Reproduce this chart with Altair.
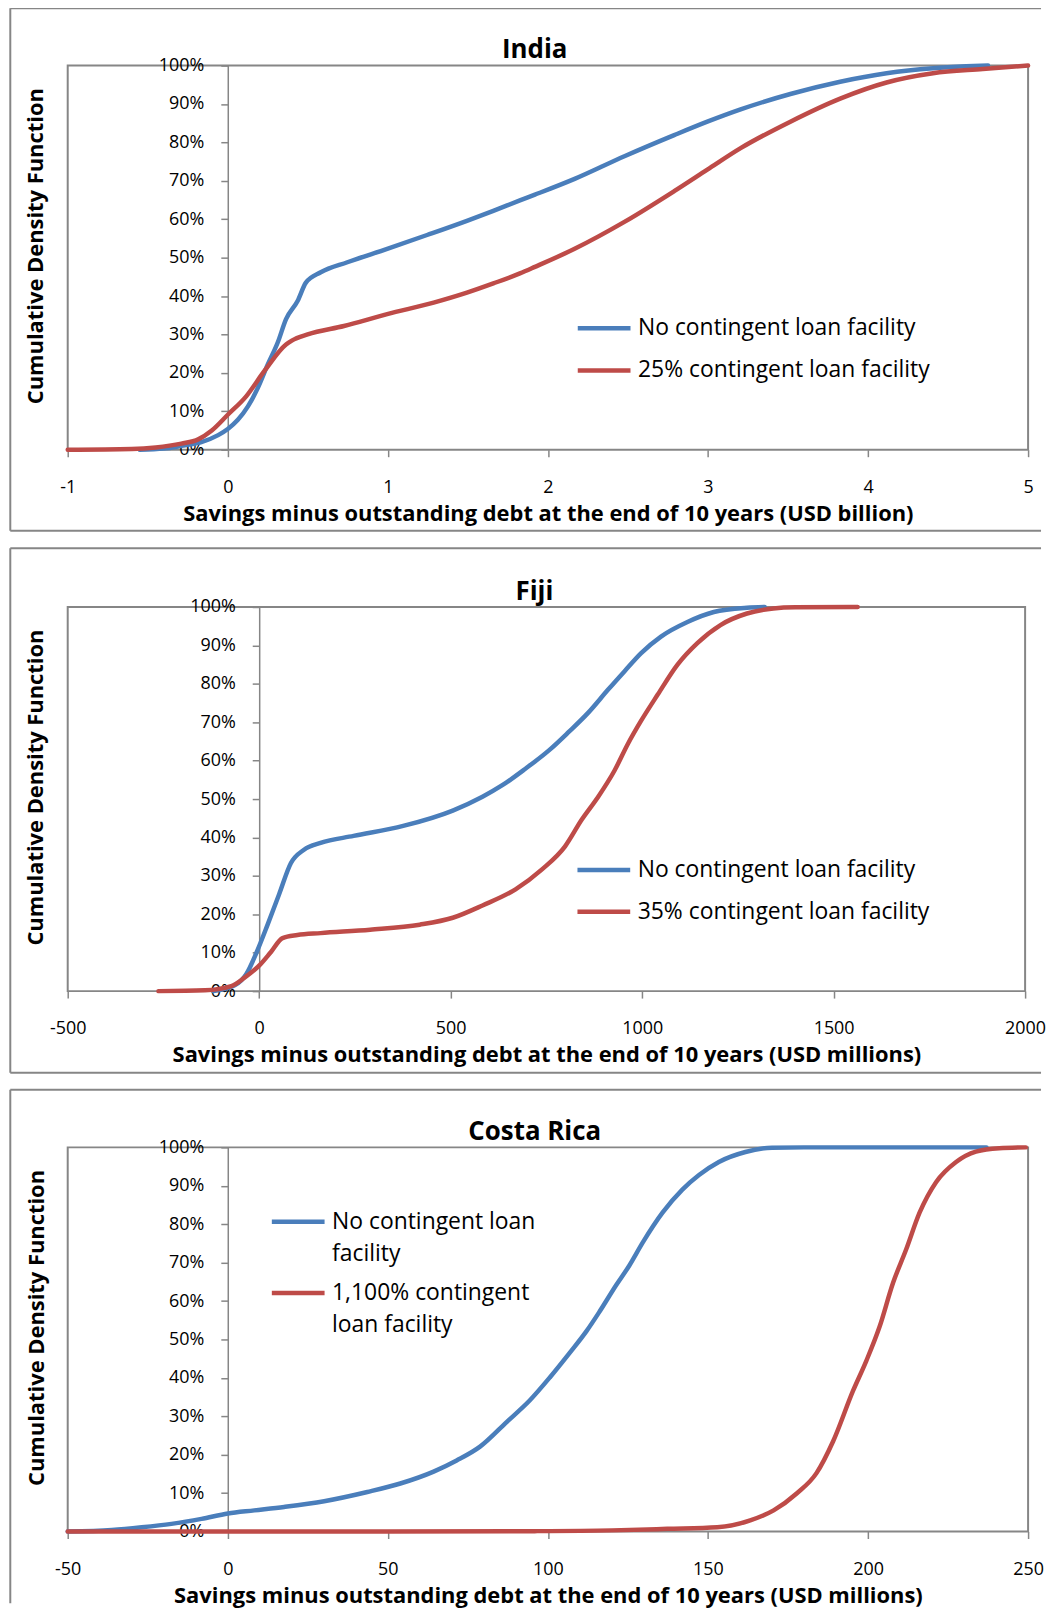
import altair as alt
import pandas as pd

FONT = "Open Sans"
GRAY = "#868686"
BLUE = "#4A7EBB"
RED = "#BE4B48"

# ---------------- India (USD billion) ----------------
india_no_x = [-0.55, -0.4, -0.29, -0.165, -0.06, 0.0, 0.063, 0.126, 0.188, 0.25, 0.312, 0.364,
              0.437, 0.488, 0.581, 0.747, 0.996, 1.245, 1.494, 1.659, 1.825, 1.919, 2.167,
              2.478, 2.789, 2.996, 3.204, 3.515, 3.826, 4.116, 4.406, 4.613, 4.75]
india_no_y = [0.0, 0.3, 1.0, 2.0, 3.8, 5.4, 7.8, 11.3, 16.1, 22.2, 27.9, 34.0,
              38.8, 43.5, 46.2, 48.8, 52.3, 55.9, 59.6, 62.2, 64.9, 66.4, 70.5,
              76.4, 81.9, 85.4, 88.6, 92.6, 95.8, 98.0, 99.3, 99.8, 100.0]
india_cl_x = [-1.0, -0.6, -0.45, -0.29, -0.185, -0.1, 0.0, 0.115, 0.229, 0.364, 0.4, 0.499,
              0.726, 0.996, 1.286, 1.494, 1.659, 1.825, 1.919, 2.167, 2.478, 2.789, 2.996,
              3.204, 3.515, 3.826, 4.116, 4.406, 4.717, 5.0]
india_cl_y = [0.0, 0.2, 0.6, 1.6, 2.7, 5.0, 9.1, 13.9, 20.5, 27.4, 28.4, 30.0,
              32.2, 35.3, 38.3, 40.9, 43.3, 45.9, 47.6, 52.3, 59.3, 67.3, 72.9,
              78.5, 85.4, 91.4, 95.6, 98.0, 99.1, 100.0]
india_ticks = [-1, 0, 1, 2, 3, 4, 5]

# ---------------- Fiji (USD millions) ----------------
fiji_no_x = [-120, -64.2, -33.9, -8, 22, 52.3, 82.6, 117, 160.3, 246.5, 376, 505.5, 583.1,
             634.9, 695.2, 755.8, 807.6, 859.4, 911.2, 954.2, 997.4, 1049.2, 1118.3,
             1187.2, 1273.7, 1320]
fiji_no_y = [0.0, 1.5, 4.4, 9.8, 17.3, 25.3, 33.3, 36.8, 38.6, 40.4, 43.0, 47.0, 50.6,
             53.6, 57.9, 62.6, 67.4, 72.5, 78.5, 83.3, 88.0, 92.3, 96.1,
             98.7, 99.8, 100.0]
fiji_cl_x = [-263, -141.9, -72.8, -38.3, 0.5, 30.8, 60.9, 99.7, 160.3, 289.7, 419.2, 505.5,
             583.1, 669.4, 738.5, 798.8, 842.0, 885.3, 928.3, 963.0, 997.4, 1040.7, 1092.4,
             1144.2, 1204.6, 1273.7, 1342.6, 1400, 1562.7]
fiji_cl_y = [0.0, 0.2, 1.3, 3.5, 6.7, 10.2, 13.8, 14.6, 15.1, 16.0, 17.3, 19.1,
             22.3, 26.5, 31.7, 37.7, 44.6, 50.6, 57.5, 64.4, 70.4, 77.2, 85.0,
             90.6, 95.3, 98.3, 99.6, 99.9, 100.0]
fiji_ticks = [-500, 0, 500, 1000, 1500, 2000]

# ---------------- Costa Rica (USD millions) ----------------
cr_no_x = [-50, -36.2, -26.9, -17.6, -8.2, 0.05, 8.3, 17.6, 30.1, 43.6, 53.9, 64.3, 71.5,
           78.8, 87.1, 94.3, 100.6, 106.8, 112.0, 116.1, 121.3, 125.4, 129.6, 135.8,
           142.0, 147.2, 153.4, 161.7, 170.0, 180, 237]
cr_no_y = [0.0, 0.4, 1.1, 2.0, 3.3, 4.7, 5.5, 6.4, 7.9, 10.3, 12.5, 15.6, 18.5,
           22.1, 28.5, 34.1, 40.1, 46.5, 52.1, 57.2, 64.1, 69.2, 75.2, 83.0,
           89.0, 92.8, 96.2, 98.8, 99.9, 100.0, 100.0]
cr_cl_x = [-50, 50, 95.9, 120, 137.3, 152.9, 163.2, 170.5, 177.7, 183.9, 189.1, 195.3,
           199.5, 203.6, 207.8, 211.9, 216.1, 221.3, 227.5, 233.7, 241, 249.3]
cr_cl_y = [0.0, 0.0, 0.1, 0.3, 0.7, 1.1, 2.9, 5.5, 9.9, 15.2, 23.5, 36.6,
           44.5, 53.3, 64.7, 73.4, 83.0, 91.0, 96.2, 98.9, 99.8, 100.0]
cr_ticks = [-50, 0, 50, 100, 150, 200, 250]

Y_TICKS = [i / 10 for i in range(11)]
LBL_NO = "No contingent loan facility"
Y_TITLE = "Cumulative Density Function"


def panel(title, xs_no, ys_no, xs_cl, ys_cl, lbl_cl, ticks, xtitle, W, H,
          leg_x, leg_y, row_pad, bl, bt, bb, br, title_x, title_y,
          ytitle_base, label_expr=None):
    xmin, xmax = ticks[0], ticks[-1]
    df = pd.DataFrame({
        "x": xs_no + xs_cl,
        "y": [v / 100 for v in ys_no + ys_cl],
        "series": [LBL_NO] * len(xs_no) + [lbl_cl] * len(xs_cl),
        "ord": list(range(len(xs_no))) + list(range(len(xs_cl))),
    })
    x0 = (0 - xmin) / (xmax - xmin) * W
    leg_kw = dict(
        orient="none", legendX=leg_x, legendY=leg_y, title=None,
        symbolType="stroke", symbolStrokeWidth=4.5, symbolSize=53 * 53,
        labelFont=FONT, labelFontSize=23, labelColor="black", labelOffset=5,
        labelLimit=500, clipHeight=24, rowPadding=row_pad, padding=0,
    )
    if label_expr:
        leg_kw["labelExpr"] = label_expr
    lines = alt.Chart(df).mark_line(
        strokeWidth=4.5, interpolate="monotone", strokeCap="round", strokeJoin="round"
    ).encode(
        x=alt.X("x:Q", scale=alt.Scale(domain=[xmin, xmax], nice=False, zero=False),
                axis=alt.Axis(values=ticks, title=xtitle, labelExpr="'' + datum.value",
                              domain=False, labelPadding=36, labelBaseline="alphabetic",
                              titleY=71, titleBaseline="alphabetic")),
        y=alt.Y("y:Q", scale=alt.Scale(domain=[0, 1], nice=False),
                axis=alt.Axis(values=Y_TICKS, format=".0%", offset=-x0,
                              title=Y_TITLE,
                              labelPadding=17, titleAngle=270, titleAlign="center",
                              titleBaseline="alphabetic", titleX=ytitle_base - x0,
                              titleY=H / 2 - 12)),
        color=alt.Color("series:N",
                        scale=alt.Scale(domain=[LBL_NO, lbl_cl], range=[BLUE, RED]),
                        legend=alt.Legend(**leg_kw)),
        order="ord:Q",
    )
    one = pd.DataFrame({"k": [0]})
    left = alt.Chart(one).mark_rule(color=GRAY, strokeWidth=2).encode(
        x=alt.value(bl), y=alt.value(bt), y2=alt.value(bb if bb is not None else H + 72))
    top = alt.Chart(one).mark_rule(color=GRAY, strokeWidth=2).encode(
        x=alt.value(bl), x2=alt.value(br), y=alt.value(bt))
    layers = [left, top]
    if bb is not None:
        bottom = alt.Chart(one).mark_rule(color=GRAY, strokeWidth=2).encode(
            x=alt.value(bl), x2=alt.value(br), y=alt.value(bb))
        layers.append(bottom)
    ttl = alt.Chart(one).mark_text(
        text=title, font=FONT, fontSize=26, fontWeight="bold", color="black",
        align="center", baseline="alphabetic"
    ).encode(x=alt.value(title_x), y=alt.value(title_y))
    layers += [ttl, lines]
    return alt.layer(*layers).properties(width=W, height=H)


H = 386
p_india = panel("India", india_no_x, india_no_y, india_cl_x, india_cl_y,
                "25% contingent loan facility", india_ticks,
                "Savings minus outstanding debt at the end of 10 years (USD billion)",
                965, H, 510, 252, 18.3,
                -57.7, -57.6, H + 81.4, 978, 469.3, -7.5, -25)
p_fiji = panel("Fiji", fiji_no_x, fiji_no_y, fiji_cl_x, fiji_cl_y,
               "35% contingent loan facility", fiji_ticks,
               "Savings minus outstanding debt at the end of 10 years (USD millions)",
               962, H, 509.7, 252.3, 18.0,
               -57.7, -59.0, H + 82.0, 978, 469, -7.5, -25)
p_cr = panel("Costa Rica", cr_no_x, cr_no_y, cr_cl_x, cr_cl_y,
             "1,100% contingent loan facility", cr_ticks,
             "Savings minus outstanding debt at the end of 10 years (USD millions)",
             965, H, 202.6, 62.8, 15.6,
             -57.7, -57.8, None, 978, 469.3, -7.5, -24.4,
             label_expr="datum.label == 'No contingent loan facility' ? "
                        "['No contingent loan', 'facility'] : "
                        "['1,100% contingent', 'loan facility']")

chart = alt.vconcat(p_india, p_fiji, p_cr, spacing=13).resolve_scale(
    color="independent", x="independent", y="independent"
).resolve_legend(color="independent").properties(
    padding={"top": -6, "left": 0, "right": 0, "bottom": 0}, background="white"
).configure(
    style={"guide-label": {"lineHeight": 32}},
).configure_view(
    stroke=GRAY, strokeWidth=2
).configure_axis(
    labelFont=FONT, labelFontSize=18, labelColor="black",
    titleFont=FONT, titleFontSize=22, titleFontWeight="bold", titleColor="black",
    domainColor=GRAY, domainWidth=1.5, tickColor=GRAY, tickWidth=1.5, tickSize=7,
    grid=False, labelFlush=False, labelOverlap=False,
)

chart.save("out.html", embed_options={"renderer": "svg", "actions": False})
